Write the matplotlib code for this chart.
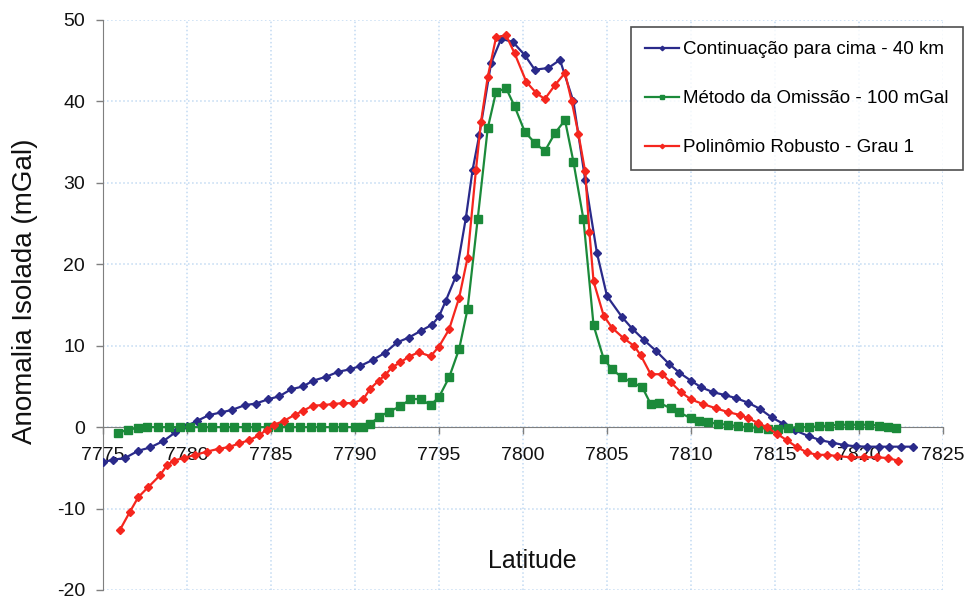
import numpy as np
import matplotlib
matplotlib.use("Agg")
import matplotlib.pyplot as plt

plt.rcParams['font.family'] = ['Liberation Sans', 'DejaVu Sans']
plt.rcParams['axes.unicode_minus'] = False

# Continuação para cima - 40 km
lat_cont = [7775.0, 7775.6, 7776.3, 7777.1, 7777.8, 7778.6, 7779.3, 7780.0, 7780.6, 7781.3,
            7782.0, 7782.65, 7783.45, 7784.1, 7784.8, 7785.5, 7786.2, 7786.9, 7787.5, 7788.3,
            7789.0, 7789.7, 7790.3, 7791.1, 7791.8, 7792.5, 7793.2, 7793.9, 7794.6, 7795.0,
            7795.4, 7796.0, 7796.6, 7797.0, 7797.4, 7798.1, 7798.7, 7799.4, 7800.1, 7800.7,
            7801.5, 7802.2, 7803.0, 7803.7, 7804.4, 7805.0, 7805.9, 7806.5, 7807.2, 7807.9,
            7808.7, 7809.3, 7810.0, 7810.6, 7811.3, 7812.0, 7812.7, 7813.4, 7814.1, 7814.8,
            7815.5, 7816.2, 7817.0, 7817.7, 7818.4, 7819.1, 7819.8, 7820.5, 7821.2, 7821.8,
            7822.5, 7823.2]
an_cont = [-4.3, -4.0, -3.8, -2.9, -2.5, -1.7, -0.65, 0.16, 0.77, 1.47,
           1.8, 2.1, 2.7, 2.9, 3.4, 3.8, 4.65, 5.0, 5.7, 6.2,
           6.8, 7.1, 7.5, 8.3, 9.15, 10.4, 11.0, 11.8, 12.6, 13.6,
           15.5, 18.5, 25.7, 31.6, 35.9, 44.7, 47.7, 47.3, 45.7, 43.9,
           44.1, 45.1, 40.0, 30.4, 21.4, 16.1, 13.5, 12.1, 10.7, 9.4,
           7.75, 6.7, 5.7, 4.9, 4.3, 3.95, 3.55, 3.0, 2.25, 1.2,
           0.4, -0.4, -1.1, -1.6, -1.9, -2.2, -2.35, -2.4, -2.4, -2.4,
           -2.4, -2.4]

# Método da Omissão - 100 mGal
lat_omis = [7775.9, 7776.5, 7777.1, 7777.6, 7778.3, 7778.9, 7779.6, 7780.2, 7780.9, 7781.5,
            7782.2, 7782.8, 7783.5, 7784.1, 7784.8, 7785.4, 7786.1, 7786.7, 7787.4, 7788.0,
            7788.7, 7789.3, 7790.0, 7790.5, 7790.9, 7791.4, 7792.0, 7792.7, 7793.3, 7793.9,
            7794.5, 7795.0, 7795.6, 7796.2, 7796.7, 7797.3, 7797.9, 7798.4, 7799.0, 7799.5,
            7800.1, 7800.7, 7801.3, 7801.9, 7802.5, 7803.0, 7803.6, 7804.2, 7804.8, 7805.3,
            7805.9, 7806.5, 7807.1, 7807.6, 7808.1, 7808.8, 7809.3, 7810.0, 7810.5, 7811.0,
            7811.6, 7812.2, 7812.8, 7813.4, 7814.0, 7814.6, 7815.2, 7815.8, 7816.4, 7817.0,
            7817.6, 7818.2, 7818.8, 7819.4, 7820.0, 7820.6, 7821.2, 7821.7, 7822.2]
an_omis = [-0.7, -0.3, -0.1, 0.0, 0.0, 0.0, 0.0, 0.0, 0.0, 0.0,
           0.0, 0.0, 0.0, 0.0, 0.0, 0.0, 0.0, 0.0, 0.0, 0.0,
           0.0, 0.0, 0.0, 0.0, 0.4, 1.2, 1.9, 2.55, 3.45, 3.45,
           2.7, 3.7, 6.1, 9.6, 14.5, 25.5, 36.7, 41.2, 41.6, 39.4,
           36.3, 34.9, 33.9, 36.1, 37.7, 32.6, 25.5, 12.5, 8.4, 7.1,
           6.1, 5.5, 4.9, 2.85, 3.0, 2.3, 1.8, 1.1, 0.7, 0.6,
           0.4, 0.3, 0.1, 0.0, -0.1, -0.2, -0.2, -0.1, 0.0, 0.0,
           0.1, 0.2, 0.3, 0.3, 0.3, 0.3, 0.2, 0.0, -0.1]

# Polinômio Robusto - Grau 1
lat_poli = [7776.0, 7776.6, 7777.1, 7777.7, 7778.4, 7778.8, 7779.2, 7779.8, 7780.5, 7781.2,
            7781.9, 7782.5, 7783.1, 7783.7, 7784.3, 7784.75, 7785.2, 7785.8, 7786.4, 7786.9,
            7787.5, 7788.1, 7788.7, 7789.3, 7789.9, 7790.5, 7790.9, 7791.4, 7791.8, 7792.2,
            7792.7, 7793.2, 7793.8, 7794.5, 7795.0, 7795.6, 7796.2, 7796.7, 7797.2, 7797.5,
            7797.9, 7798.4, 7799.0, 7799.5, 7800.2, 7800.8, 7801.3, 7801.9, 7802.5, 7802.9,
            7803.3, 7803.7, 7803.95, 7804.2, 7804.8, 7805.3, 7806.0, 7806.6, 7807.0, 7807.6,
            7808.3, 7808.8, 7809.4, 7810.0, 7810.7, 7811.5, 7812.2, 7812.9, 7813.4, 7814.0,
            7814.5, 7815.1, 7815.7, 7816.3, 7816.9, 7817.5, 7818.1, 7818.7, 7819.5, 7820.3,
            7821.1, 7821.7, 7822.3]
an_poli = [-12.65, -10.4, -8.6, -7.35, -5.9, -4.7, -4.1, -3.8, -3.4, -3.0,
           -2.65, -2.45, -2.0, -1.6, -1.0, -0.3, 0.3, 0.8, 1.5, 2.0,
           2.65, 2.7, 2.85, 2.95, 2.95, 3.45, 4.7, 5.7, 6.4, 7.35,
           7.95, 8.65, 9.2, 8.7, 9.9, 12.0, 15.9, 20.8, 31.6, 37.5,
           43.0, 47.9, 48.1, 45.9, 42.4, 41.0, 40.3, 42.0, 43.5, 40.0,
           36.0, 31.4, 24.0, 17.9, 13.7, 12.2, 10.9, 10.0, 8.85, 6.5,
           6.5, 5.5, 4.3, 3.4, 2.85, 2.3, 1.85, 1.5, 1.1, 0.5,
           0.0, -0.8, -1.6, -2.45, -3.1, -3.4, -3.4, -3.55, -3.7, -3.7,
           -3.7, -3.8, -4.1]

xticks = np.arange(7775, 7826, 5)
yticks = np.arange(-20, 51, 10)

fig = plt.figure(figsize=(9.76, 6.0), dpi=100)
ax = fig.add_axes([103/976, 10/600, 840/976, 570/600])

ax.plot(lat_cont, an_cont, color='#2a2a8a', lw=1.6, marker='D', ms=3.8,
        label='Continuação para cima - 40 km', zorder=3)
ax.plot(lat_omis, an_omis, color='#1b8a3a', lw=1.6, marker='s', ms=5.5,
        label='Método da Omissão - 100 mGal', zorder=3)
ax.plot(lat_poli, an_poli, color='#f5261e', lw=1.6, marker='D', ms=3.8,
        label='Polinômio Robusto - Grau 1', zorder=4)

ax.set_xlim(7775, 7825)
ax.set_ylim(-20, 50)
ax.set_xticks(xticks)
ax.set_yticks(yticks)
ax.grid(True, color='#c2daf2', linestyle=':', linewidth=1.1)
ax.set_axisbelow(True)

ax.spines['top'].set_visible(False)
ax.spines['right'].set_visible(False)
ax.spines['bottom'].set_position(('data', 0))
ax.spines['bottom'].set_color('#7f7f7f')
ax.spines['left'].set_color('#7f7f7f')
ax.tick_params(axis='both', colors='#7f7f7f', labelcolor='#111111',
               labelsize=14, length=5, width=1)
ax.tick_params(axis='x', pad=9)
ax.tick_params(axis='y', pad=8)

ax.set_xlabel('Latitude', fontsize=18, color='#111111')
ax.set_ylabel('Anomalia Isolada (mGal)', fontsize=20, color='#111111')
ax.xaxis.set_label_coords(0.511, 0.072)
ax.yaxis.set_label_coords(-0.077, 0.524)

leg = ax.legend(loc='upper right', bbox_to_anchor=(963/976, 573/600),
                bbox_transform=fig.transFigure, fontsize=13.5, frameon=True,
                fancybox=False, edgecolor='#222222', labelspacing=1.7,
                handlelength=1.8, handletextpad=0.25, borderpad=0.75,
                markerscale=0.6, borderaxespad=0)
leg.get_frame().set_linewidth(1.2)

fig.savefig('out.png', dpi=100)
